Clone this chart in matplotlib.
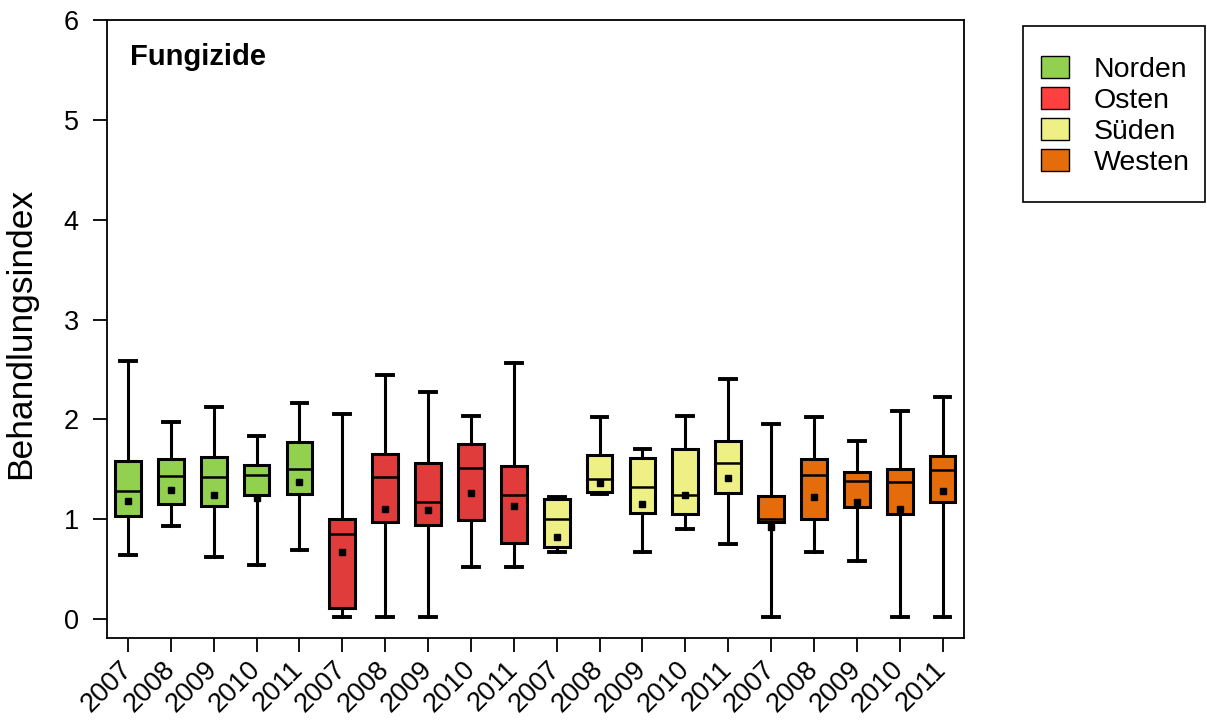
import matplotlib
matplotlib.use("Agg")
import matplotlib.pyplot as plt
from matplotlib.patches import Patch, Rectangle

plt.rcParams['font.family'] = ['Liberation Sans', 'DejaVu Sans']

years = ['2007', '2008', '2009', '2010', '2011']
regions = ['Norden', 'Osten', 'Süden', 'Westen']
box_colors = ['#92d050', '#e03c3c', '#eef085', '#e46c0a']
legend_colors = ['#92d050', '#ff4040', '#eef085', '#e46c0a']

# per box: whisker low, q1, median, q3, whisker high, mean
whislo = [0.64, 0.93, 0.62, 0.54, 0.69,
          0.02, 0.02, 0.02, 0.52, 0.52,
          0.67, 1.25, 0.67, 0.90, 0.75,
          0.02, 0.67, 0.58, 0.02, 0.02]
q1 = [1.03, 1.15, 1.13, 1.24, 1.25,
      0.11, 0.97, 0.94, 0.99, 0.76,
      0.72, 1.27, 1.06, 1.05, 1.26,
      0.97, 1.00, 1.12, 1.05, 1.17]
med = [1.28, 1.43, 1.42, 1.44, 1.50,
       0.85, 1.42, 1.17, 1.51, 1.24,
       1.00, 1.40, 1.32, 1.24, 1.56,
       1.00, 1.44, 1.38, 1.37, 1.49]
q3 = [1.58, 1.60, 1.62, 1.54, 1.77,
      1.00, 1.65, 1.56, 1.75, 1.53,
      1.20, 1.64, 1.61, 1.70, 1.78,
      1.23, 1.60, 1.47, 1.50, 1.63]
whishi = [2.58, 1.97, 2.12, 1.83, 2.16,
          2.05, 2.44, 2.27, 2.03, 2.56,
          1.22, 2.02, 1.70, 2.03, 2.40,
          1.95, 2.02, 1.78, 2.08, 2.22]
means = [1.18, 1.29, 1.24, 1.21, 1.37,
         0.67, 1.10, 1.09, 1.26, 1.13,
         0.82, 1.36, 1.15, 1.24, 1.41,
         0.92, 1.22, 1.17, 1.10, 1.28]

stats = []
for i in range(len(med)):
    stats.append({'whislo': whislo[i], 'q1': q1[i], 'med': med[i],
                  'q3': q3[i], 'whishi': whishi[i], 'mean': means[i],
                  'fliers': []})

W, H = 1207, 720
fig = plt.figure(figsize=(W / 100, H / 100), dpi=100)
ax = fig.add_axes([106.5 / W, 1 - 638 / H, (964 - 106.5) / W, (638 - 20) / H])

positions = list(range(len(stats)))
bp = ax.bxp(stats, positions=positions, widths=0.6, patch_artist=True,
            showmeans=True, showfliers=False,
            boxprops=dict(linewidth=2.2, edgecolor='black'),
            medianprops=dict(color='black', linewidth=1.8),
            whiskerprops=dict(color='black', linewidth=2.2),
            capprops=dict(color='black', linewidth=2.8),
            meanprops=dict(marker='s', markerfacecolor='black',
                           markeredgecolor='black', markersize=3.8),
            capwidths=0.37)
for i, patch in enumerate(bp['boxes']):
    patch.set_facecolor(box_colors[i // 5])

ax.set_xlim(-0.5, 19.5)
ax.set_ylim(-0.19, 6)
ax.set_yticks([0, 1, 2, 3, 4, 5, 6])
ax.set_xticks(positions)
ax.set_xticklabels(years * 4, rotation=45, ha='right', va='center',
                   rotation_mode='anchor')
ax.tick_params(axis='both', labelsize=19.5, direction='out', length=10, width=1.3)
ax.tick_params(axis='y', pad=10)
ax.tick_params(axis='x', pad=10)
for s in ax.spines.values():
    s.set_linewidth(1.3)

ax.set_ylabel('Behandlungsindex', fontsize=25.5)
ax.yaxis.set_label_coords((37 - 106.5) / 857.5, 0.4935)
ax.text((130 - 106.5) / 857.5, (638 - 57) / 618, 'Fungizide',
        transform=ax.transAxes, fontsize=21, fontweight='bold',
        ha='left', va='center')

# legend frame drawn separately so the padding can differ per side
fig.patches.append(Rectangle((1023 / W, 1 - 202 / H), (1205 - 1023) / W,
                             (202 - 26) / H, transform=fig.transFigure,
                             facecolor='white', edgecolor='black',
                             linewidth=1.2))
handles = [Patch(facecolor=c, edgecolor='black', linewidth=1) for c in legend_colors]
fig.legend(handles, regions, loc='upper left',
           bbox_to_anchor=(1041 / W, 1 - 56 / H),
           fontsize=20.5, frameon=False, borderpad=0, borderaxespad=0,
           labelspacing=0.15, handlelength=1.0, handleheight=0.8,
           handletextpad=0.85)

fig.savefig('out.png', dpi=100)
